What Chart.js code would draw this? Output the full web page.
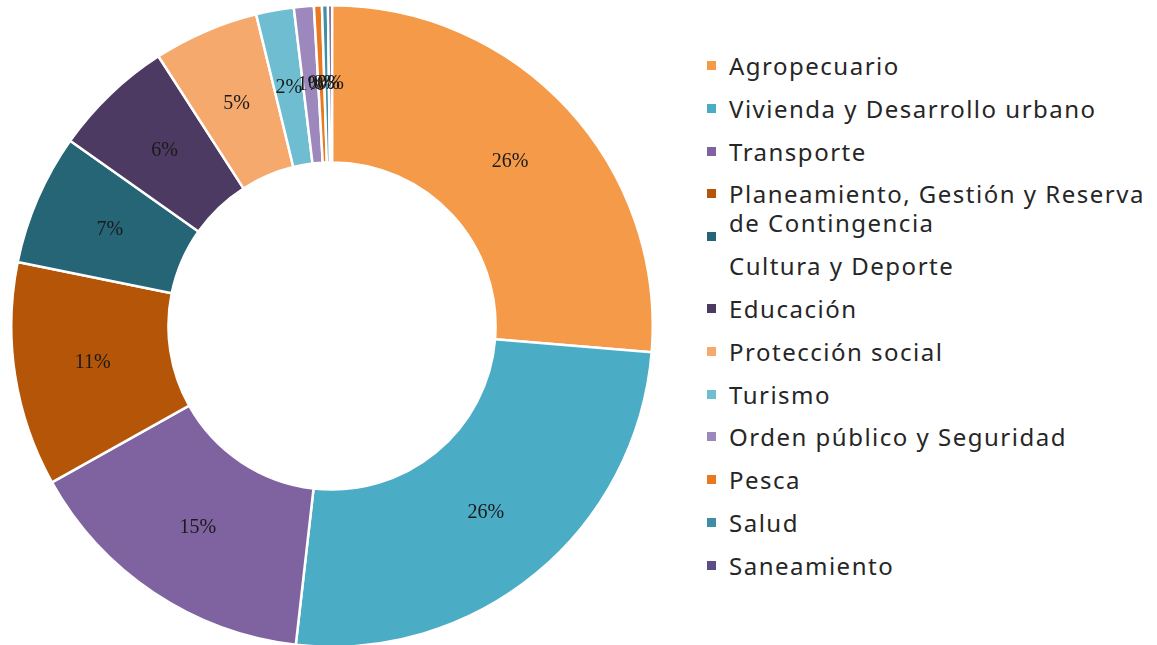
<!DOCTYPE html>
<html lang="es">
<head>
<meta charset="utf-8">
<title>Distribución por función</title>
<script src="https://cdn.jsdelivr.net/npm/chart.js@4/dist/chart.umd.min.js"></script>
<style>
    html, body {
        margin: 0;
        padding: 0;
        background: #ffffff;
    }
    #wrap {
        position: relative;
        width: 1157px;
        height: 645px;
        overflow: hidden;
    }
    #donutBox {
        position: absolute;
        left: 10px;
        top: 4px;
        width: 644px;
        height: 644px;
    }
    #legend {
        position: absolute;
        left: 707px;
        top: 44px;
        width: 450px;
        margin: 0;
        padding: 0;
        list-style: none;
        font-family: "Noto Sans", sans-serif;
        font-size: 24px;
        letter-spacing: 1.5px;
        color: #262626;
    }
    #legend li {
        position: relative;
        padding-left: 22px;
        line-height: 29px;
        box-sizing: border-box;
        padding-top: 7px;
        white-space: pre;
    }
    #legend .box {
        position: absolute;
        left: 0;
        top: 17px;
        width: 9px;
        height: 9px;
    }
</style>
</head>
<body>
<div id="wrap">
    <div id="donutBox"><canvas id="donutChart"></canvas></div>
    <ul id="legend"></ul>
</div>
<script>
// Sectors and their share of the total (%)
const categories = [
    'Agropecuario',
    'Vivienda y Desarrollo urbano',
    'Transporte',
    'Planeamiento, Gestión y Reserva de Contingencia',
    'Cultura y Deporte',
    'Educación',
    'Protección social',
    'Turismo',
    'Orden público y Seguridad',
    'Pesca',
    'Salud',
    'Saneamiento'
];
const shares = [26.3, 25.5, 15.1, 11.3, 6.6, 6.1, 5.3, 1.9, 1.0, 0.4, 0.3, 0.2];
const sliceColors = [
    '#F49A48', '#4AACC5', '#7F63A1', '#B45507', '#256576', '#4C3A63',
    '#F5A96D', '#6FBDD1', '#9C88BD', '#E9781E', '#3E8FA6', '#5D4D84'
];
// legend text broken where it wraps
const legendLines = [
    ['Agropecuario'],
    ['Vivienda y Desarrollo urbano'],
    ['Transporte'],
    ['Planeamiento, Gestión y Reserva', 'de Contingencia'],
    ['Cultura y Deporte'],
    ['Educación'],
    ['Protección social'],
    ['Turismo'],
    ['Orden público y Seguridad'],
    ['Pesca'],
    ['Salud'],
    ['Saneamiento']
];

// Draws the rounded percentage in the middle of each ring sector
const sliceLabels = {
    id: 'sliceLabels',
    afterDatasetsDraw(chart) {
        const ctx = chart.ctx;
        const meta = chart.getDatasetMeta(0);
        const data = chart.data.datasets[0].data;
        const total = data.reduce((a, b) => a + b, 0);
        ctx.save();
        ctx.font = '20px "Liberation Serif", "DejaVu Serif", serif';
        ctx.fillStyle = '#1a1a1a';
        ctx.textAlign = 'center';
        ctx.textBaseline = 'middle';
        meta.data.forEach((arc, i) => {
            const pos = arc.getCenterPoint();
            const pct = Math.round(data[i] / total * 100);
            ctx.fillText(pct + '%', pos.x, pos.y);
        });
        ctx.restore();
    }
};

function buildLegend() {
    const list = document.getElementById('legend');
    let lift = 0;
    legendLines.forEach((lines, i) => {
        const li = document.createElement('li');
        li.style.height = (42.8 + (lines.length - 1) * 29) + 'px';
        const box = document.createElement('span');
        box.className = 'box';
        box.style.background = sliceColors[i];
        // marker of the item after a wrapped label stays on the previous row
        if (lift) box.style.top = (17 - lift) + 'px';
        li.appendChild(box);
        li.appendChild(document.createTextNode(lines.join('\n')));
        list.appendChild(li);
        lift = (lines.length - 1) * 29;
    });
}

document.addEventListener('DOMContentLoaded', function () {
    const ctx = document.getElementById('donutChart').getContext('2d');
    new Chart(ctx, {
        type: 'doughnut',
        data: {
            labels: categories,
            datasets: [{
                data: shares,
                backgroundColor: sliceColors,
                borderColor: '#ffffff',
                borderWidth: 2.5
            }]
        },
        options: {
            responsive: true,
            maintainAspectRatio: false,
            animation: false,
            cutout: '51%',
            layout: { padding: 0 },
            plugins: {
                legend: { display: false },
                tooltip: { enabled: false },
                title: { display: false }
            }
        },
        plugins: [sliceLabels]
    });
    buildLegend();
});
</script>
</body>
</html>
